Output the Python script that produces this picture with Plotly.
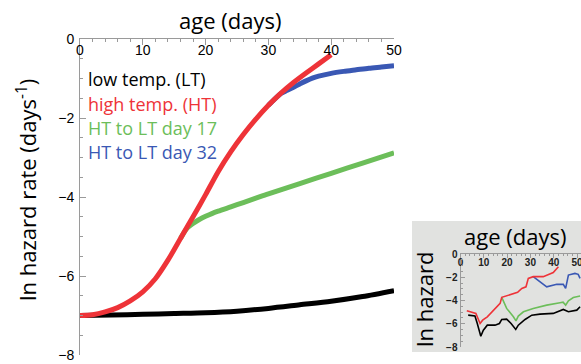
import plotly.graph_objects as go

W, H = 581, 364

# ---------------- main chart data ----------------
lt_x = [0, 5, 10, 15, 20, 25, 30, 35, 40, 45, 50]
lt_y = [-7.0, -6.99, -6.97, -6.95, -6.93, -6.89, -6.82, -6.73, -6.64, -6.52, -6.37]

ht_x = [0, 2, 4, 6, 8, 10, 12, 14, 16, 18, 20, 22, 24, 26, 28, 30, 32, 34, 36, 38, 40]
ht_y = [-7.0, -6.98, -6.91, -6.8, -6.63, -6.4, -6.07, -5.6, -5.05, -4.5, -3.94,
        -3.36, -2.86, -2.42, -2.03, -1.68, -1.37, -1.1, -0.86, -0.63, -0.4]

d17_x = [16, 17, 18, 19, 20, 21, 22, 24, 26, 28, 30, 35, 40, 45, 50]
d17_y = [-5.05, -4.8, -4.67, -4.57, -4.49, -4.42, -4.36, -4.25, -4.14, -4.03, -3.92,
         -3.66, -3.4, -3.14, -2.88]

d32_x = [30, 32, 33, 34, 35, 36, 37, 38, 40, 42, 44, 46, 48, 50]
d32_y = [-1.68, -1.38, -1.3, -1.22, -1.14, -1.06, -0.99, -0.94, -0.87, -0.82,
         -0.78, -0.74, -0.71, -0.68]

# ---------------- inset data ----------------
in_lt_x = [3.3, 6.2, 7.2, 8.7, 9.8, 11.5, 14.8, 16.7, 17.7, 19.8, 21.7, 23.7, 24.8,
           27.7, 30.6, 34.1, 39.8, 44.1, 46.3, 49.9, 51.3]
in_lt_y = [-5.26, -5.34, -5.98, -7.07, -6.55, -6.12, -6.12, -5.98, -5.63, -5.6, -5.98,
           -6.49, -6.12, -5.63, -5.26, -5.17, -5.11, -4.77, -4.97, -4.83, -4.54]

in_ht_x = [2.7, 6.6, 8.4, 9.5, 11.5, 14.1, 17.0, 17.7, 22.7, 24.5, 26.3, 28.1, 29.1,
           31.2, 35.5, 38.4, 39.8, 42.0]
in_ht_y = [-4.89, -5.12, -5.98, -5.69, -5.4, -4.89, -4.25, -3.73, -3.45, -3.3, -2.96,
           -2.82, -2.1, -1.95, -1.95, -1.67, -1.6, -1.09]

in_d17_x = [17.7, 19.8, 22.7, 23.8, 24.8, 27.0, 31.2, 37.0, 42.7, 44.0, 45.1, 46.3, 48.4, 51.3]
in_d17_y = [-3.73, -4.68, -5.4, -5.75, -5.34, -4.97, -4.68, -4.4, -4.2, -4.15, -4.4,
            -4.02, -3.74, -3.62]

in_d32_x = [31.2, 37.0, 41.3, 44.1, 45.1, 46.3, 49.1, 50.5, 51.3]
in_d32_y = [-1.95, -2.82, -2.61, -2.61, -2.96, -1.81, -1.67, -1.75, -2.1]

legend_labels = ["low temp. (LT)", "high temp. (HT)", "HT to LT day 17", "HT to LT day 32"]

BLACK = "#000000"
RED = "#EE3338"
GREEN = "#6CBE5A"
BLUE = "#3A58B4"
AXC = "#9a9a9a"


def px(v):
    return v / W


def py(v):
    return 1 - v / H


fig = go.Figure()

for xs, ys, c in [(lt_x, lt_y, BLACK), (d17_x, d17_y, GREEN), (d32_x, d32_y, BLUE), (ht_x, ht_y, RED)]:
    fig.add_trace(go.Scatter(x=xs, y=ys, mode="lines", line=dict(color=c, width=5, shape="spline", smoothing=0.8),
                             xaxis="x", yaxis="y", showlegend=False, hoverinfo="skip"))

for xs, ys, c in [(in_lt_x, in_lt_y, BLACK), (in_d17_x, in_d17_y, GREEN), (in_d32_x, in_d32_y, BLUE), (in_ht_x, in_ht_y, RED)]:
    fig.add_trace(go.Scatter(x=xs, y=ys, mode="lines", line=dict(color=c, width=1.6),
                             xaxis="x2", yaxis="y2", showlegend=False, hoverinfo="skip"))

tickfont = dict(family="Liberation Sans, Arial", size=14, color="black")
tickfont_in = dict(family="Liberation Sans, Arial", size=10, color="#222", weight="bold")

fig.update_layout(
    width=W, height=H,
    margin=dict(l=0, r=0, t=0, b=0, pad=0, autoexpand=False),
    paper_bgcolor="white",
    plot_bgcolor="rgba(0,0,0,0)",
    xaxis=dict(domain=[px(80), px(394)], range=[0, 50], side="top", anchor="y", automargin=False,
               showline=True, linecolor=AXC, linewidth=1, ticks="inside", ticklen=6,
               tickcolor=AXC, tickmode="linear", tick0=10, dtick=10,
               ticklabelposition="inside", ticklabeloverflow="allow", tickfont=tickfont,
               showgrid=False, zeroline=False,
               minor=dict(ticks="inside", ticklen=3, tick0=0, dtick=2, tickcolor=AXC, showgrid=False)),
    yaxis=dict(domain=[py(355), py(39)], range=[-8, 0], anchor="x", automargin=False,
               showline=True, linecolor=AXC, linewidth=1, ticks="inside", ticklen=6,
               tickcolor=AXC, tickmode="linear", tick0=0, dtick=2, tickfont=tickfont,
               ticklabelstandoff=2,
               showgrid=False, zeroline=False,
               minor=dict(ticks="inside", ticklen=3, tick0=0, dtick=0.5, tickcolor=AXC, showgrid=False)),
    xaxis2=dict(domain=[px(460.5), 1], range=[0, 51.7], side="top", anchor="y2", automargin=False,
                showline=True, linecolor=AXC, linewidth=1, ticks="inside", ticklen=4,
                tickcolor=AXC, tickmode="linear", tick0=10, dtick=10,
                ticklabelposition="inside", ticklabeloverflow="allow", tickfont=tickfont_in,
                showgrid=False, zeroline=False,
                minor=dict(ticks="inside", ticklen=2, tick0=0, dtick=2, tickcolor=AXC, showgrid=False)),
    yaxis2=dict(domain=[py(347), py(254)], range=[-8, 0], anchor="x2", automargin=False,
                showline=True, linecolor=AXC, linewidth=1, ticks="inside", ticklen=4,
                tickcolor=AXC, tickmode="linear", tick0=0, dtick=2, tickfont=tickfont_in,
                showgrid=False, zeroline=False,
                minor=dict(ticks="inside", ticklen=2, tick0=0, dtick=0.5, tickcolor=AXC, showgrid=False)),
    shapes=[dict(type="rect", xref="paper", yref="paper", x0=px(412), x1=1.0, y0=py(352), y1=py(221),
                 fillcolor="#E1E2E0", line=dict(width=0), layer="below")],
)

TF = "Open Sans"
ann = [
    dict(text="age (days)", x=px(230), y=py(20), size=22),
    dict(text="ln hazard rate (days<sup>-1</sup>)", x=px(26), y=py(190), size=22, angle=-90),
    dict(text="age (days)", x=px(515), y=py(236), size=22),
    dict(text="ln hazard", x=px(424), y=py(300), size=22, angle=-90),
]
for a in ann:
    fig.add_annotation(text=a["text"], x=a["x"], y=a["y"], xref="paper", yref="paper",
                       showarrow=False, xanchor="center", yanchor="middle",
                       textangle=a.get("angle", 0),
                       font=dict(family=TF, size=a["size"], color="black"))

for lbl, c, yy in zip(legend_labels, [BLACK, RED, GREEN, BLUE], [79, 104, 128, 152]):
    fig.add_annotation(text=lbl, x=px(86), y=py(yy), xref="paper", yref="paper",
                       showarrow=False, xanchor="left", yanchor="middle",
                       font=dict(family=TF, size=18, color=c))

fig.write_html("out.html")
